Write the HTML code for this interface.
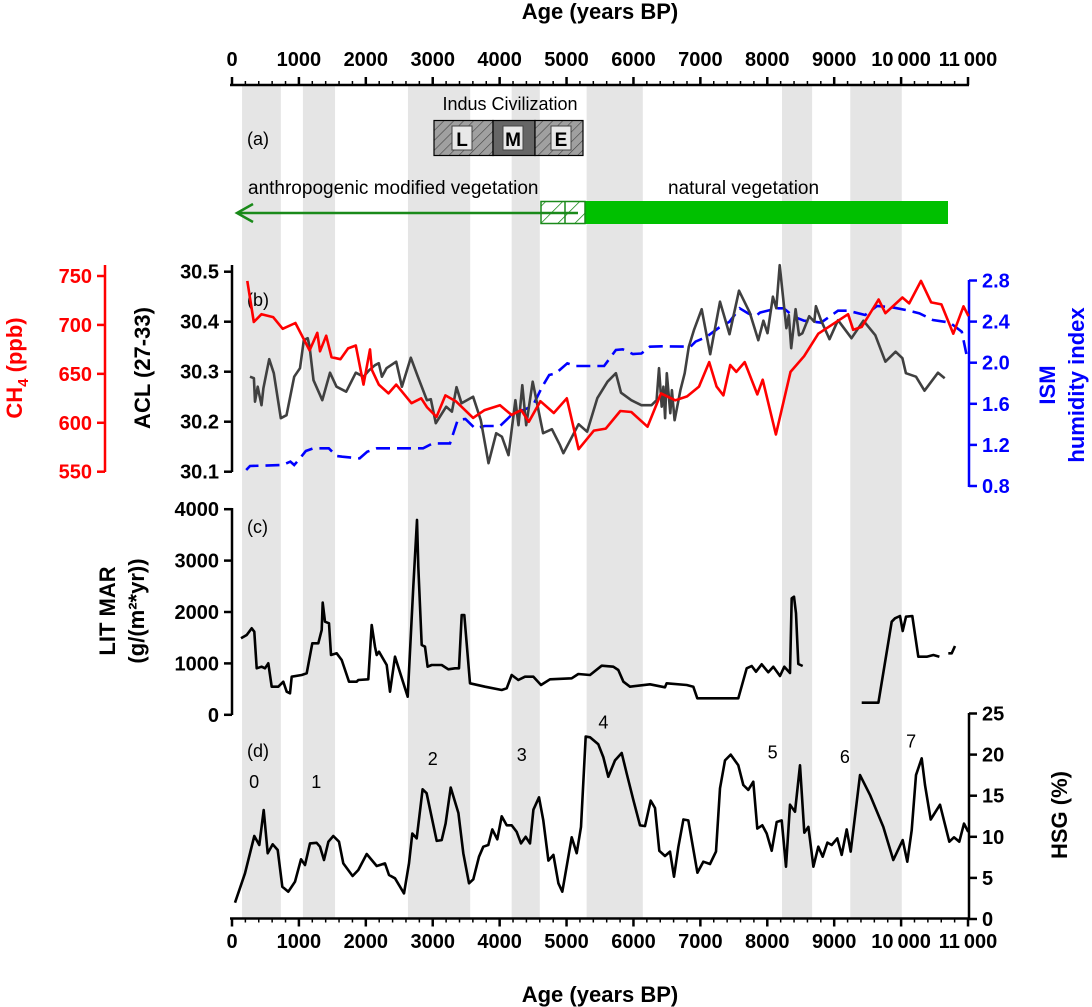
<!DOCTYPE html>
<html><head><meta charset="utf-8">
<style>
html,body{margin:0;padding:0;background:#fff;}
svg{display:block;font-family:"Liberation Sans",Arial,sans-serif;}
</style></head>
<body>
<svg id="chart" xmlns="http://www.w3.org/2000/svg" width="1092" height="1007" viewBox="0 0 1092 1007">
<defs>
<pattern id="hatchGray" patternUnits="userSpaceOnUse" width="7" height="7" patternTransform="rotate(45)">
<rect width="7" height="7" fill="#a0a0a0"/><line x1="0" y1="0" x2="0" y2="7" stroke="#444" stroke-width="1.2"/></pattern>
<pattern id="hatchGreen" patternUnits="userSpaceOnUse" width="12" height="12" patternTransform="rotate(45)">
<rect width="12" height="12" fill="#fff"/><line x1="0" y1="0" x2="0" y2="12" stroke="#1a8a1a" stroke-width="1.5"/></pattern>
</defs>
<g id="bands"></g>
<g id="layer"></g>
</svg>
<script>
// ---- data ----
const bandStart = [150, 1060, 2630, 4180, 5300, 8220, 9240];
const bandEnd   = [730, 1540, 3560, 4600, 6140, 8670, 10010];

const ch4Age = [229,326,441,614,758,947,1160,1275,1315,1408,1487,1620,1735,1850,1965,2063,2091,2194,2339,2454,2683,2828,2913,3057,3190,3345,3603,3775,4005,4177,4322,4436,4609,4810,5004,5180,5409,5587,5804,5967,6210,6412,6626,6802,6980,7132,7243,7344,7446,7537,7663,7851,7932,8129,8347,8550,8763,9208,9284,9411,9664,9765,10019,10121,10298,10450,10603,10780,10932,11008];
const ch4Val = [745,703,711,708,696,702,674,692,673,689,667,665,676,679,639,675,654,639,630,639,620,625,616,606,628,622,605,613,618,608,613,601,622,610,625,573,592,594,612,611,596,630,623,627,637,662,637,628,659,652,662,629,644,588,652,668,691,711,695,698,726,712,728,722,745,723,721,691,719,709];

const aclAge = [269,327,344,384,441,470,556,625,729,815,930,1016,1073,1131,1160,1218,1350,1465,1562,1707,1850,1965,2051,2137,2194,2240,2309,2454,2539,2672,2769,2913,2971,3046,3201,3287,3355,3430,3603,3718,3833,3948,4034,4132,4235,4282,4339,4397,4494,4649,4781,4902,4953,5180,5307,5459,5612,5738,5814,5967,6119,6270,6346,6382,6422,6447,6473,6499,6550,6575,6615,6701,6766,6827,6903,7020,7147,7294,7435,7577,7739,7866,7942,8003,8084,8135,8186,8246,8286,8322,8358,8424,8474,8525,8627,8702,8727,8803,8930,9057,9259,9437,9614,9766,9918,10020,10071,10222,10349,10552,10652];
const aclVal = [30.29,30.287,30.24,30.27,30.233,30.267,30.325,30.297,30.207,30.213,30.29,30.307,30.363,30.367,30.35,30.283,30.243,30.298,30.27,30.26,30.298,30.29,30.303,30.313,30.317,30.29,30.307,30.32,30.27,30.328,30.293,30.243,30.245,30.197,30.23,30.22,30.269,30.237,30.25,30.203,30.117,30.177,30.17,30.133,30.243,30.193,30.273,30.193,30.28,30.177,30.185,30.153,30.137,30.195,30.18,30.247,30.28,30.297,30.258,30.243,30.233,30.233,30.243,30.307,30.23,30.27,30.207,30.297,30.217,30.263,30.203,30.263,30.297,30.35,30.383,30.425,30.335,30.44,30.375,30.462,30.418,30.363,30.402,30.377,30.45,30.427,30.513,30.437,30.387,30.413,30.347,30.425,30.373,30.377,30.411,30.4,30.431,30.403,30.365,30.403,30.367,30.402,30.373,30.32,30.34,30.327,30.297,30.29,30.262,30.298,30.287];

const ismAge = [212,269,758,873,930,988,1103,1218,1447,1562,1649,1907,2022,2166,2856,3000,3258,3373,3488,3632,3775,4005,4177,4494,4638,4741,4840,5011,5126,5561,5738,5839,5992,6119,6244,6422,6853,6929,7081,7284,7435,7588,7714,7815,7891,8145,8246,8398,8551,8803,9057,9208,9462,9640,9867,10071,10273,10476,10729,10907,10983];
const ismVal = [0.956,0.995,1.004,1.037,1.004,1.047,1.141,1.167,1.167,1.092,1.085,1.069,1.134,1.167,1.167,1.215,1.215,1.442,1.452,1.361,1.384,1.384,1.491,1.579,1.767,1.88,1.896,1.994,1.968,1.968,2.124,2.13,2.085,2.09,2.156,2.16,2.156,2.205,2.247,2.344,2.399,2.529,2.48,2.448,2.488,2.529,2.529,2.448,2.409,2.39,2.506,2.506,2.464,2.552,2.539,2.513,2.481,2.416,2.39,2.302,2.059];

const litAge = [134,219,294,334,369,443,493,543,593,692,767,817,867,892,1042,1116,1200,1290,1340,1355,1390,1450,1480,1565,1640,1749,1863,1888,2037,2088,2137,2162,2197,2312,2361,2436,2626,2710,2765,2785,2835,2884,2924,2984,3134,3233,3333,3393,3433,3472,3557,3781,4031,4105,4180,4279,4379,4504,4618,4753,5077,5176,5350,5525,5699,5774,5849,5948,6247,6471,6496,6796,6894,6954,7567,7692,7767,7831,7916,8015,8090,8190,8255,8340,8365,8399,8429,8464,8529,8600,9411,9660,9860,9909,9984,10024,10073,10168,10257,10382,10482,10572,10640,10706,10756,10805];
const litVal = [1489,1553,1683,1617,905,936,905,1002,547,547,644,450,418,742,775,807,1391,1391,1650,2182,1812,1780,1164,1197,1066,644,644,677,690,1747,1325,1164,1228,969,450,1131,352,2493,3791,2882,1358,1325,936,969,969,885,905,905,1942,1942,613,547,483,515,775,677,742,742,580,690,710,794,775,956,936,872,644,547,593,535,612,580,547,321,321,905,949,839,982,826,936,755,936,813,2267,2298,1975,989,949,null,235,235,1812,1878,1923,1631,1909,1923,1131,1131,1164,1131,null,1197,1197,1339];

const hsgAge = [45,194,334,408,474,533,608,683,752,842,942,1031,1091,1166,1265,1315,1375,1440,1514,1599,1664,1803,1888,2013,2162,2287,2346,2436,2571,2645,2695,2760,2849,2909,3059,3134,3193,3268,3383,3457,3542,3607,3692,3756,3831,3890,3965,4031,4105,4180,4255,4319,4389,4454,4504,4588,4653,4728,4803,4878,4937,5077,5152,5216,5286,5350,5475,5549,5624,5724,5824,5899,5998,6098,6172,6257,6322,6386,6471,6546,6606,6671,6746,6820,6955,7044,7144,7234,7294,7368,7453,7567,7642,7717,7791,7851,7926,7991,8066,8141,8216,8280,8340,8414,8489,8554,8614,8689,8763,8828,8898,8963,9047,9112,9187,9247,9386,9535,9734,9884,10024,10093,10158,10223,10308,10357,10442,10582,10721,10791,10870,10940,11005];
const hsgVal = [1.98,5.56,10.1,9.0,13.26,7.99,9.09,8.39,3.93,3.32,4.54,7.26,6.57,9.2,9.27,8.8,7.18,9.4,10.1,9.4,6.77,5.23,5.96,7.91,6.45,6.77,5.35,4.95,3.12,6.77,10.4,9.8,15.78,15.3,9.5,9.6,11.6,16.0,12.9,8.0,4.34,4.83,7.58,8.8,9.0,10.9,9.7,12.5,11.4,11.4,10.6,9.2,10.0,9.2,13.3,14.8,12.0,7.1,7.8,4.34,3.32,9.94,8.0,11.2,22.2,22.1,21.25,19.7,17.3,19.3,20.2,17.7,14.5,11.4,11.3,14.4,13.5,8.3,7.66,8.2,5.15,8.8,12.1,12.0,5.63,6.97,6.69,8.2,15.9,19.3,20.0,18.7,16.3,15.7,16.7,11.0,11.4,10.4,8.3,11.8,12.0,6.36,13.9,13.05,18.7,10.5,11.2,6.36,8.8,7.58,9.3,9.0,9.8,7.8,10.9,8.2,17.5,15.1,11.2,7.18,9.6,6.97,10.8,17.5,19.55,16.3,12.1,13.9,9.4,9.94,9.4,11.6,10.6];

const ageTicks = [0,1000,2000,3000,4000,5000,6000,7000,8000,9000,10000,11000];
const ageTickLabels = ["0","1000","2000","3000","4000","5000","6000","7000","8000","9000","10\u2009000","11\u2009000"];
const aclTicks = [30.1,30.2,30.3,30.4,30.5];
const ch4Ticks = [550,600,650,700,750];
const ismTicks = [0.8,1.2,1.6,2.0,2.4,2.8];
const litTicks = [0,1000,2000,3000,4000];
const hsgTicks = [0,5,10,15,20,25];
const hsgEventLabels = ["0","1","2","3","4","5","6","7"];
const hsgEventAge = [330,1260,3000,4330,5550,8080,9160,10150];
const hsgEventVal = [16.8,16.8,19.6,20.1,24.0,20.4,19.8,21.7];

// ---- scales ----
const sx = a => 232 + a * 0.06691;
const yAcl = v => 271.7 + (30.5 - v) * 500;
const yCh4 = v => 276 + (750 - v) * 0.9785;
const yIsm = v => 280.5 + (2.8 - v) * 102.75;
const yLit = v => 714.8 - v * 0.0514;
const yHsg = v => 919 - v * 8.22;

const NS = "http://www.w3.org/2000/svg";
const layer = document.getElementById('layer');
const bandsG = document.getElementById('bands');
function mk(tag, attrs, parent, text){
  const e = document.createElementNS(NS, tag);
  for (const k in attrs) e.setAttribute(k, attrs[k]);
  if (text !== undefined) e.textContent = text;
  (parent || layer).appendChild(e);
  return e;
}
function pathD(xs, ys, fy){
  let d = '', pen = false;
  for (let i = 0; i < xs.length; i++){
    if (ys[i] === null){ pen = false; continue; }
    d += (pen ? 'L' : 'M') + sx(xs[i]).toFixed(1) + ' ' + fy(ys[i]).toFixed(1) + ' ';
    pen = true;
  }
  return d;
}

// bands
for (let i = 0; i < bandStart.length; i++){
  const r = mk('rect', {x: sx(bandStart[i]), y: 85, width: sx(bandEnd[i]) - sx(bandStart[i]), height: 833, fill: '#e5e5e5'}, bandsG);
  
  
}

// top & bottom x axes
function xAxis(y, dir, labelY, name){
  const g = mk('g', {});
  
  
  mk('line', {x1: 230, x2: sx(11000) + 1, y1: y, y2: y, stroke: '#000', 'stroke-width': 2.5}, g);
  for (let a = 0; a <= 11000; a += 200){
    const major = a % 1000 === 0;
    mk('line', {x1: sx(a), x2: sx(a), y1: y, y2: y + dir * (major ? 8 : 4), stroke: '#000', 'stroke-width': major ? 2.5 : 1.5}, g);
  }
  for (let i = 0; i < ageTicks.length; i++){
    const t = mk('text', {x: sx(ageTicks[i]), y: labelY, 'text-anchor': 'middle', 'font-size': 20, 'font-weight': 'bold'}, g, ageTickLabels[i]);
    
    
  }
}
xAxis(85, -1, 66, 'top-x-axis');
xAxis(918.5, 1, 948, 'bottom-x-axis');
mk('text', {x: 600, y: 19, 'text-anchor': 'middle', 'font-size': 22, 'font-weight': 'bold',  }, null, 'Age (years BP)');
mk('text', {x: 600, y: 1002, 'text-anchor': 'middle', 'font-size': 22, 'font-weight': 'bold',  }, null, 'Age (years BP)');

// y axes
function yAxis(x, y1, y2, ticks, fy, side, color, labels, name){
  const g = mk('g', {});
  
  
  mk('line', {x1: x, x2: x, y1: y1, y2: y2, stroke: color, 'stroke-width': 2.5}, g);
  for (let i = 0; i < ticks.length; i++){
    const yy = fy(ticks[i]);
    mk('line', {x1: x, x2: x + side * 8, y1: yy, y2: yy, stroke: color, 'stroke-width': 2.5}, g);
    mk('text', {x: x + side * 13, y: yy + 7, 'text-anchor': side < 0 ? 'end' : 'start', 'font-size': 20, 'font-weight': 'bold', fill: color}, g, labels[i]);
  }
}
yAxis(105, 265, 472, ch4Ticks, yCh4, -1, '#ff0000', ch4Ticks.map(String), 'ch4-axis');
yAxis(232, 265, 472, aclTicks, yAcl, -1, '#000', aclTicks.map(v => v.toFixed(1)), 'acl-axis');
yAxis(969, 280, 487, ismTicks, yIsm, 1, '#0000ff', ismTicks.map(v => v.toFixed(1)), 'ism-axis');
yAxis(232, 508, 715, litTicks, yLit, -1, '#000', litTicks.map(String), 'lit-axis');
yAxis(969, 713, 919, hsgTicks, yHsg, 1, '#000', hsgTicks.map(String), 'hsg-axis');

// axis titles
function vtitle(x, y, txt, color, name){
  const t = mk('text', {x: x, y: y, transform: 'rotate(-90 ' + x + ' ' + y + ')', 'text-anchor': 'middle', 'font-size': 22, 'font-weight': 'bold', fill: color}, null, txt);
  
  
  return t;
}
const ch4T = vtitle(22, 368, '', '#ff0000', 'ch4-axis-title');
ch4T.appendChild(document.createTextNode('CH'));
const sub = document.createElementNS(NS, 'tspan'); sub.setAttribute('font-size', '15'); sub.setAttribute('dy', '6'); sub.textContent = '4'; ch4T.appendChild(sub);
const rest = document.createElementNS(NS, 'tspan'); rest.setAttribute('dy', '-6'); rest.textContent = ' (ppb)'; ch4T.appendChild(rest);
vtitle(150, 368, 'ACL (27-33)', '#000', 'acl-axis-title');
vtitle(1055, 385, 'ISM', '#0000ff', 'ism-axis-title-line1');
vtitle(1084, 385, 'humidity index', '#0000ff', 'ism-axis-title-line2');
vtitle(115, 611, 'LIT MAR', '#000', 'lit-axis-title-line1');
vtitle(144, 611, '(g/(m\u00b2*yr))', '#000', 'lit-axis-title-line2');
vtitle(1067, 815, 'HSG (%)', '#000', 'hsg-axis-title');

// panel labels
[['(a)',139],['(b)',300],['(c)',527],['(d)',751]].forEach(p => {
  const t = mk('text', {x: 247, y: p[1] + 6, 'font-size': 18}, null, p[0]);
  
  
});

// panel a
mk('text', {x: 510, y: 110, 'text-anchor': 'middle', 'font-size': 18,  }, null, 'Indus Civilization');
const indus = mk('g', { });
mk('rect', {x: 434, y: 120.5, width: 59, height: 35, fill: 'url(#hatchGray)', stroke: '#000', 'stroke-width': 1.2}, indus);
mk('rect', {x: 493, y: 120.5, width: 42, height: 35, fill: '#666', stroke: '#000', 'stroke-width': 1.2}, indus);
mk('rect', {x: 535, y: 120.5, width: 48, height: 35, fill: 'url(#hatchGray)', stroke: '#000', 'stroke-width': 1.2}, indus);
[[452,'L'],[503,'M'],[551,'E']].forEach(b => {
  mk('rect', {x: b[0], y: 126, width: 20, height: 24, fill: '#e8e8e8', stroke: '#444', 'stroke-width': 1}, indus);
  mk('text', {x: b[0] + 10, y: 146, 'text-anchor': 'middle', 'font-size': 19, 'font-weight': 'bold'}, indus, b[1]);
});
mk('text', {x: 248, y: 194, 'font-size': 19,  }, null, 'anthropogenic modified vegetation');
mk('text', {x: 668, y: 194, 'font-size': 19,  }, null, 'natural vegetation');
const veg = mk('g', { });
mk('rect', {x: 585, y: 201, width: 363, height: 23, fill: '#00c000'}, veg);
mk('rect', {x: 541, y: 201.5, width: 44, height: 22, fill: 'url(#hatchGreen)', stroke: '#1a8a1a', 'stroke-width': 1.5}, veg);
mk('line', {x1: 565, x2: 565, y1: 201.5, y2: 223.5, stroke: '#1a8a1a', 'stroke-width': 1.5}, veg);
mk('line', {x1: 237, x2: 578, y1: 213, y2: 213, stroke: '#1a8a1a', 'stroke-width': 2.5}, veg);
mk('polyline', {points: '253,204 237,213 253,222', fill: 'none', stroke: '#1a8a1a', 'stroke-width': 2.5}, veg);

// series
const ism = mk('path', {d: pathD(ismAge, ismVal, yIsm), fill: 'none', stroke: '#0000ff', 'stroke-width': 2.6, 'stroke-dasharray': '14 7'});


const acl = mk('path', {d: pathD(aclAge, aclVal, yAcl), fill: 'none', stroke: '#404040', 'stroke-width': 2.6, 'stroke-linejoin': 'round'});


const ch4 = mk('path', {d: pathD(ch4Age, ch4Val, yCh4), fill: 'none', stroke: '#ff0000', 'stroke-width': 2.6, 'stroke-linejoin': 'round'});


const lit = mk('path', {d: pathD(litAge, litVal, yLit), fill: 'none', stroke: '#000', 'stroke-width': 2.6, 'stroke-linejoin': 'round'});


const hsg = mk('path', {d: pathD(hsgAge, hsgVal, yHsg), fill: 'none', stroke: '#000', 'stroke-width': 2.6, 'stroke-linejoin': 'round'});



for (let i = 0; i < hsgEventLabels.length; i++){
  const t = mk('text', {x: sx(hsgEventAge[i]), y: yHsg(hsgEventVal[i]) + 7, 'text-anchor': 'middle', 'font-size': 18}, null, hsgEventLabels[i]);
  
  
}
</script>
</body></html>
